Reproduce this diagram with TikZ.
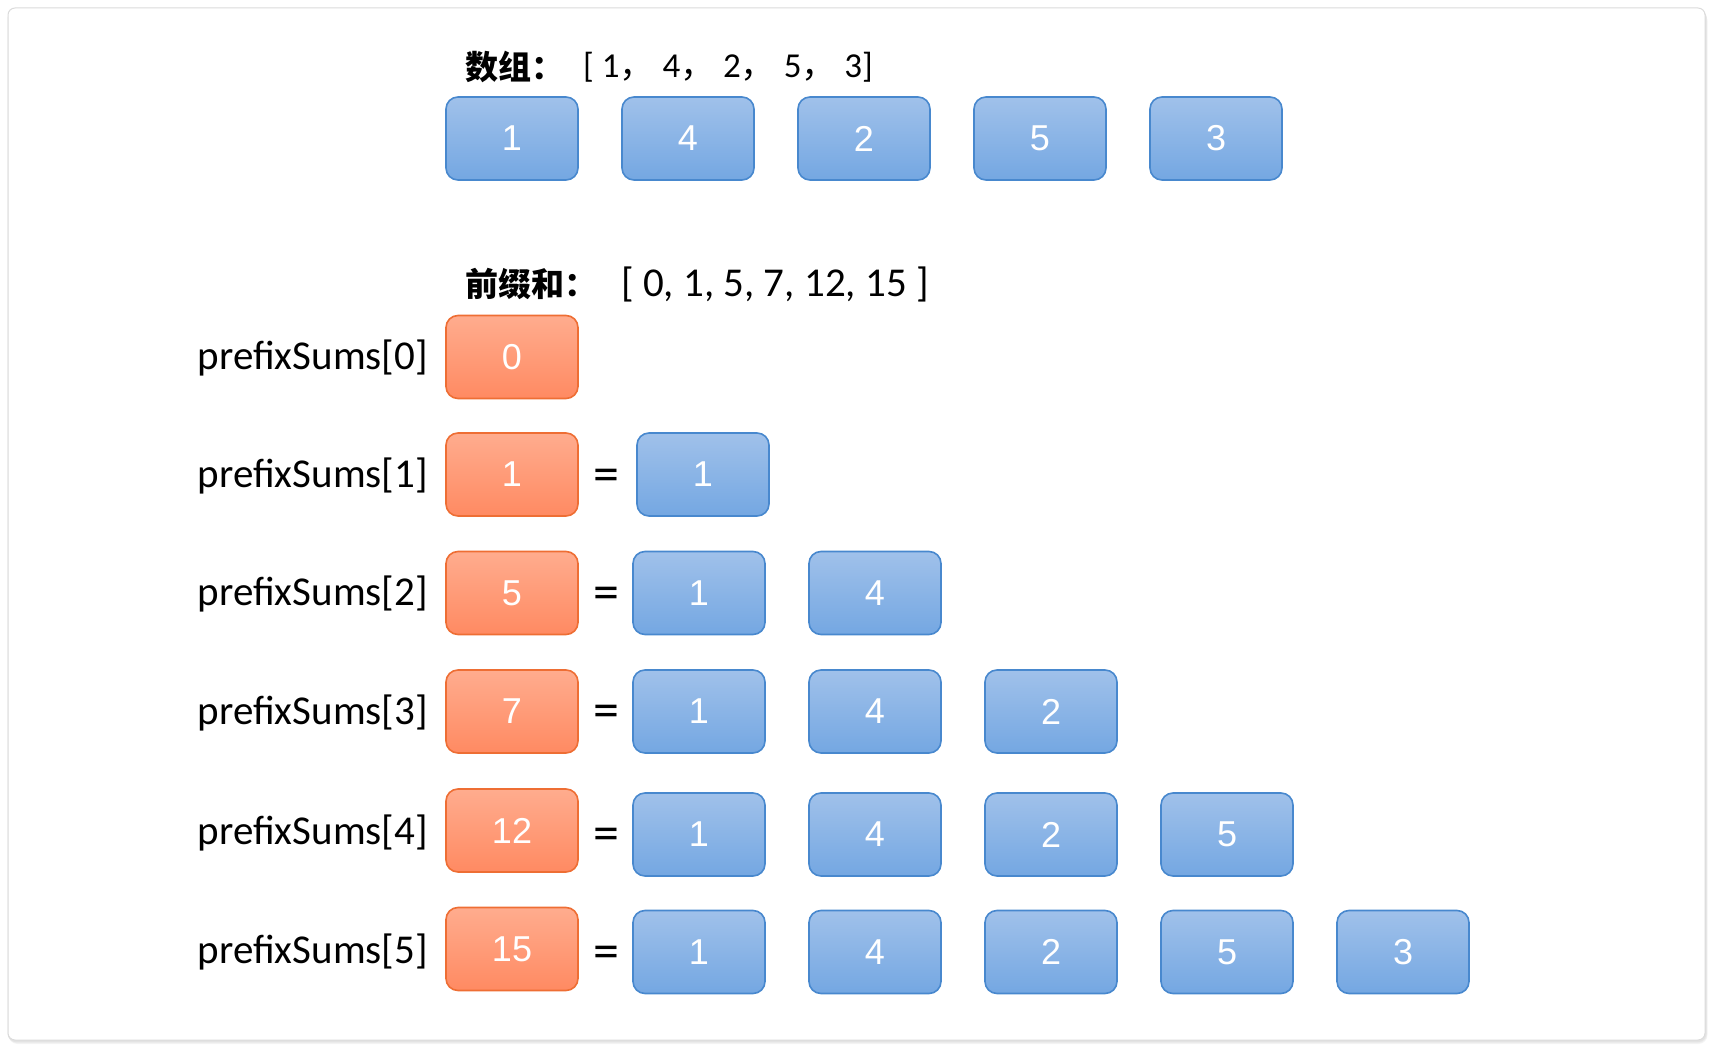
\documentclass[tikz,border=0pt]{standalone}
\usepackage{fontspec}
\setmainfont{Carlito}
\newfontfamily\cjk{Noto Sans CJK SC}
\newfontfamily\boxfont{Liberation Sans}
\definecolor{bluetop}{RGB}{160,193,234}
\definecolor{bluebot}{RGB}{116,167,226}
\definecolor{blueedge}{RGB}{72,136,206}
\definecolor{orgtop}{RGB}{255,172,142}
\definecolor{orgbot}{RGB}{255,138,98}
\definecolor{orgedge}{RGB}{238,110,52}
\tikzset{
  cell/.style={rounded corners=12pt, minimum width=132pt, minimum height=83pt,
    line width=1.6pt, font=\boxfont\fontsize{36}{40}\selectfont, text=white, inner sep=0pt},
  bluecell/.style={cell, draw=blueedge, top color=bluetop, bottom color=bluebot},
  orgcell/.style={cell, draw=orgedge, top color=orgtop, bottom color=orgbot},
  lbl/.style={font=\fontsize{41}{45}\selectfont, anchor=east, inner sep=0pt},
  eqsign/.style={font=\fontsize{52}{56}\selectfont, inner sep=0pt},
  ttl/.style={font=\fontsize{38}{42}\selectfont, anchor=west, inner sep=0pt},
  cjkttl/.style={font=\cjk\bfseries\fontsize{33}{36}\selectfont, anchor=west, inner sep=0pt}
}
\begin{document}
\begin{tikzpicture}[x=1pt,y=-1pt]
\useasboundingbox (0,0) rectangle (1714,1048);
% frame with soft shadow
\foreach \o/\c in {5/black!4,3.5/black!7,2/black!11}{
  \draw[line width=2pt, draw=\c, rounded corners=8pt] (8+\o*0.3,8+\o) rectangle (1705+\o*0.3,1040+\o*0.6);
}
\draw[line width=1pt, draw=black!14, fill=white, rounded corners=7pt] (8,8) rectangle (1705,1040);

% title 1
\node[cjkttl] (t1a) at (465,67) {数组：};
\node[ttl, font=\fontsize{35}{39}\selectfont] (t1b) at (583,67) {[ 1{\cjk ，} 4{\cjk ，} 2{\cjk ，} 5{\cjk ，} 3]};
% top row
\node[bluecell] (a1) at (512,138.5) {1};
\node[bluecell] (a2) at (688,138.5) {4};
\node[bluecell] (a3) at (864,138.5) {2};
\node[bluecell] (a4) at (1040,138.5) {5};
\node[bluecell] (a5) at (1216,138.5) {3};

% title 2
\node[cjkttl] (t2a) at (465,284) {前缀和：};
\node[ttl, font=\fontsize{41}{45}\selectfont] (t2b) at (621,284) {[ 0, 1, 5, 7, 12, 15 ]};

% rows
\node[lbl] (l0) at (428,358) {prefixSums[0]};
\node[orgcell] (p0) at (512,357) {0};

\node[lbl] (l1) at (428,475.5) {prefixSums[1]};
\node[orgcell] (p1) at (512,474.5) {1};
\node[eqsign] (e1) at (606,480) {=};
\node[bluecell] (b11) at (703,474.5) {1};

\node[lbl] (l2) at (428,594) {prefixSums[2]};
\node[orgcell] (p2) at (512,593) {5};
\node[eqsign] (e2) at (606,598) {=};
\node[bluecell] (b21) at (699,593) {1};
\node[bluecell] (b22) at (875,593) {4};

\node[lbl] (l3) at (428,712.5) {prefixSums[3]};
\node[orgcell] (p3) at (512,711.5) {7};
\node[eqsign] (e3) at (606,716) {=};
\node[bluecell] (b31) at (699,711.5) {1};
\node[bluecell] (b32) at (875,711.5) {4};
\node[bluecell] (b33) at (1051,711.5) {2};

\node[lbl] (l4) at (428,833) {prefixSums[4]};
\node[orgcell] (p4) at (512,830.5) {12};
\node[eqsign] (e4) at (606,839) {=};
\node[bluecell] (b41) at (699,834.5) {1};
\node[bluecell] (b42) at (875,834.5) {4};
\node[bluecell] (b43) at (1051,834.5) {2};
\node[bluecell] (b44) at (1227,834.5) {5};

\node[lbl] (l5) at (428,952) {prefixSums[5]};
\node[orgcell] (p5) at (512,949) {15};
\node[eqsign] (e5) at (606,957) {=};
\node[bluecell] (b51) at (699,952) {1};
\node[bluecell] (b52) at (875,952) {4};
\node[bluecell] (b53) at (1051,952) {2};
\node[bluecell] (b54) at (1227,952) {5};
\node[bluecell] (b55) at (1403,952) {3};
\end{tikzpicture}
\end{document}
